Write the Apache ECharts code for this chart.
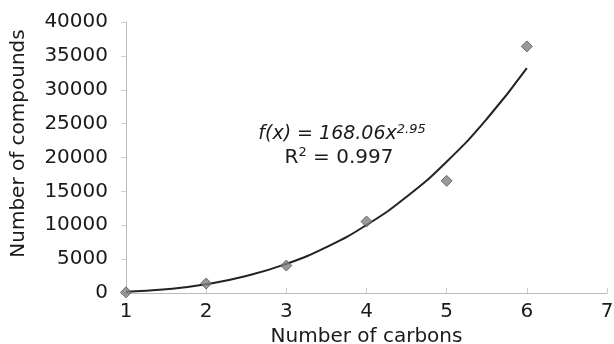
<!DOCTYPE html>
<html>
<head>
<meta charset="utf-8">
<script src="https://cdn.jsdelivr.net/npm/echarts@6/dist/echarts.min.js"></script>
<style>
  html, body { margin: 0; padding: 0; background: #fff; }
  #chart { width: 614px; height: 344px; }
</style>
</head>
<body>
<div id="chart"></div>
<script>
// measured compounds per carbon count
const carbons = [1, 2, 3, 4, 5, 6];
const compounds = [100, 1400, 4050, 10550, 16550, 36400];

// power trendline as drawn, read at half steps
const trendX = [1, 1.5, 2, 2.5, 3, 3.5, 4, 4.5, 5, 5.5, 6];
const trendY = [168, 556, 1299, 2509, 4295, 6769, 10037, 14203, 19383, 25680, 33190];

const FONT = "DejaVu Sans";
const INK = "#1a1a1a";
const chart = echarts.init(document.getElementById("chart"));

chart.setOption({
  animation: false,
  grid: { left: 126, right: 7, top: 22, bottom: 51, outerBoundsMode: "none" },
  xAxis: {
    type: "value",
    min: 1,
    max: 7,
    interval: 1,
    name: "Number of carbons",
    nameLocation: "middle",
    nameGap: 34,
    nameTextStyle: { fontFamily: FONT, fontSize: 20, color: INK },
    axisLine: { lineStyle: { color: "#bbb" } },
    axisTick: { inside: true, length: 5, lineStyle: { color: "#ccc" } },
    axisLabel: { fontFamily: FONT, fontSize: 20, color: INK, margin: 9 },
    splitLine: { show: false },
  },
  yAxis: {
    type: "value",
    min: 0,
    max: 40000,
    interval: 5000,
    name: "Number of compounds",
    nameLocation: "middle",
    nameGap: 97,
    nameTextStyle: { fontFamily: FONT, fontSize: 20, color: INK, padding: [0, 0, 0, 28] },
    axisLine: { show: true, lineStyle: { color: "#bbb" } },
    axisTick: { show: true, length: 5, lineStyle: { color: "#ccc" } },
    axisLabel: {
      fontFamily: FONT, fontSize: 20, color: INK, margin: 18,
      formatter: (v) => String(v),
    },
    splitLine: { show: false },
  },
  series: [
    {
      type: "line",
      data: trendX.map((x, i) => [x, trendY[i]]),
      smooth: true,
      showSymbol: false,
      lineStyle: { color: "#222", width: 2 },
      z: 2,
    },
    {
      type: "scatter",
      data: carbons.map((x, i) => [x, compounds[i]]),
      symbol: "diamond",
      symbolSize: 11,
      itemStyle: { color: "#808080", borderColor: "#555", borderWidth: 1 },
      z: 3,
    },
  ],
  graphic: [
    {
      type: "text",
      x: 342,
      y: 134,
      style: {
        text: "{i|f(x) = 168.06x}{s|2.95}",
        align: "center",
        verticalAlign: "middle",
        rich: {
          i: { fontFamily: FONT, fontSize: 19, fontStyle: "italic", fill: INK },
          s: { fontFamily: FONT, fontSize: 13, fontStyle: "italic", fill: INK, verticalAlign: "top", padding: [0, 0, 8, 0] },
        },
      },
    },
    {
      type: "text",
      x: 339,
      y: 158,
      style: {
        text: "{n|R}{s|2}{n| = 0.997}",
        align: "center",
        verticalAlign: "middle",
        rich: {
          n: { fontFamily: FONT, fontSize: 20, fill: INK },
          s: { fontFamily: FONT, fontSize: 13, fill: INK, verticalAlign: "top", padding: [0, 0, 10, 0] },
        },
      },
    },
  ],
});
</script>
</body>
</html>
